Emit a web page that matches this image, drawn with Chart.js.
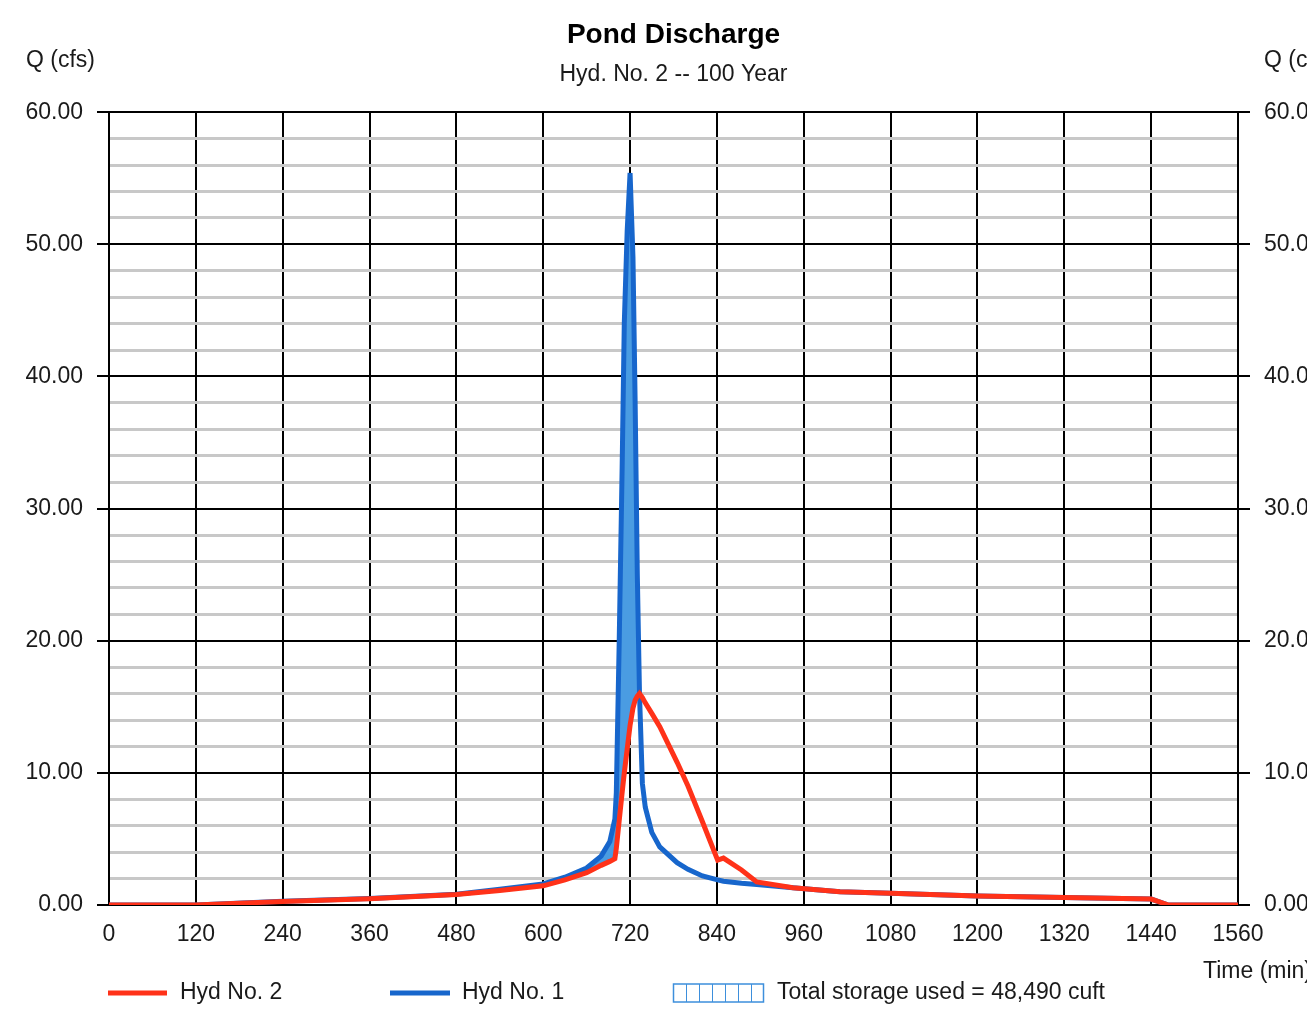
<!DOCTYPE html>
<html>
<head>
<meta charset="utf-8">
<title>Pond Discharge</title>
<script src="https://cdn.jsdelivr.net/npm/chart.js@4.4.1/dist/chart.umd.min.js"></script>
<style>
    html, body { margin: 0; padding: 0; background: #fff; overflow: hidden; }
    #wrap { position: relative; width: 1347px; height: 1015px; }
</style>
</head>
<body>
<div id="wrap"><canvas id="pondChart" width="1347" height="1015"></canvas></div>
<script>
// Time (min), shared by both hydrographs
const timeMin = [0, 120, 240, 360, 480, 540, 600, 630, 660, 680, 692, 699, 701, 705, 709, 712, 716, 720,
    724, 727, 730, 733, 737, 741, 750, 761, 785, 800, 820, 841, 849, 874, 895, 945, 1010, 1080,
    1200, 1320, 1440, 1464, 1560];

// Hyd No. 2 - pond outflow (cfs)
const hydNo2 = [0, 0, 0.27, 0.48, 0.8, 1.1, 1.45, 1.9, 2.45, 3.0, 3.3, 3.5, 4.3, 6.4, 8.5, 10.0, 11.8, 13.6,
    14.9, 15.5, 15.8, 16.0, 15.7, 15.3, 14.5, 13.5, 10.8, 9.0, 6.3, 3.4, 3.55, 2.65, 1.75, 1.3, 1.0, 0.88,
    0.68, 0.56, 0.45, 0, 0];

// Hyd No. 1 - inflow (cfs)
const hydNo1 = [0, 0, 0.28, 0.5, 0.82, 1.2, 1.6, 2.1, 2.8, 3.7, 4.8, 6.5, 8.5, 20, 33, 44, 51, 55.4,
    49, 38, 25, 16, 9.2, 7.4, 5.5, 4.4, 3.2, 2.7, 2.2, 1.9, 1.8, 1.65, 1.55, 1.3, 1.0, 0.88,
    0.68, 0.56, 0.45, 0, 0];

const xTickValues = [0, 120, 240, 360, 480, 600, 720, 840, 960, 1080, 1200, 1320, 1440, 1560];
const yMajorStep = 10;
const yMinorStep = 2;

const legendLabels = ['Hyd No. 2', 'Hyd No. 1', 'Total storage used = 48,490 cuft'];

const RED = '#ff3219';
const BLUE = '#1766cc';
const FILL_BLUE = '#4a9ce2';
const FONT = "'Liberation Sans', Arial, sans-serif";
const TEXT = '#1a1a1a';

// axis captions + custom legend, drawn relative to the chart area
const decorPlugin = {
    id: 'decor',
    afterDraw(chart) {
        const { ctx, chartArea: a } = chart;
        ctx.save();
        ctx.fillStyle = TEXT;
        ctx.font = `23px ${FONT}`;
        ctx.textBaseline = 'middle';
        ctx.textAlign = 'left';
        ctx.fillText('Q (cfs)', a.left - 83, a.top - 52);
        ctx.fillText('Q (cfs)', a.right + 26, a.top - 52);
        ctx.fillText('Time (min)', a.right - 35, a.bottom + 67);

        const ly = a.bottom + 88;
        // Hyd No. 2
        ctx.lineWidth = 5;
        ctx.strokeStyle = RED;
        ctx.beginPath();
        ctx.moveTo(a.left - 1, ly);
        ctx.lineTo(a.left + 58, ly);
        ctx.stroke();
        ctx.fillText(legendLabels[0], a.left + 71, ly);
        // Hyd No. 1
        ctx.strokeStyle = BLUE;
        ctx.beginPath();
        ctx.moveTo(a.left + 281, ly);
        ctx.lineTo(a.left + 341, ly);
        ctx.stroke();
        ctx.fillText(legendLabels[1], a.left + 353, ly);
        // storage hatch box
        const bx = a.left + 564.5, bw = 90, bh = 18;
        ctx.lineWidth = 1.5;
        ctx.strokeStyle = '#3d8fdc';
        ctx.strokeRect(bx, ly - bh / 2, bw, bh);
        ctx.lineWidth = 1;
        for (let i = 1; i < 7; i++) {
            const x = Math.round(bx + i * bw / 7) + 0.5;
            ctx.beginPath();
            ctx.moveTo(x, ly - bh / 2);
            ctx.lineTo(x, ly + bh / 2);
            ctx.stroke();
        }
        ctx.fillText(legendLabels[2], a.left + 668, ly);
        ctx.restore();
    }
};

const isMajor = v => Math.abs(v % yMajorStep) < 1e-6;

function yAxis(position, onChart) {
    return {
        type: 'linear',
        position: position,
        min: 0,
        max: 60,
        afterFit: scale => { scale.width = 109; },
        ticks: {
            stepSize: yMinorStep,
            autoSkip: false,
            padding: 14,
            color: TEXT,
            font: { family: FONT, size: 23 },
            callback: v => isMajor(v) ? v.toFixed(2) : ''
        },
        grid: {
            drawOnChartArea: onChart,
            color: c => isMajor(c.tick.value) ? '#000' : '#c8c8c8',
            lineWidth: c => isMajor(c.tick.value) ? 2 : 3,
            tickColor: c => isMajor(c.tick.value) ? '#000' : 'rgba(0,0,0,0)',
            tickWidth: 2,
            tickLength: 12
        },
        border: { display: true, color: '#000', width: 2 }
    };
}

const ctx = document.getElementById('pondChart').getContext('2d');
const pondChart = new Chart(ctx, {
    type: 'line',
    data: {
        labels: timeMin,
        datasets: [{
            label: 'Hyd No. 2',
            data: timeMin.map((t, i) => ({ x: t, y: hydNo2[i] })),
            borderColor: RED,
            borderWidth: 5,
            pointRadius: 0,
            tension: 0,
            fill: false
        }, {
            label: 'Hyd No. 1',
            data: timeMin.map((t, i) => ({ x: t, y: hydNo1[i] })),
            borderColor: BLUE,
            borderWidth: 5,
            pointRadius: 0,
            tension: 0,
            fill: { target: 0, above: FILL_BLUE, below: 'rgba(0,0,0,0)' }
        }]
    },
    options: {
        responsive: false,
        animation: false,
        layout: { padding: 0 },
        plugins: {
            legend: { display: false },
            tooltip: { enabled: false },
            title: {
                display: true,
                text: 'Pond Discharge',
                color: '#000',
                font: { family: FONT, size: 28, weight: 'bold' },
                padding: { top: 18, bottom: 0 }
            },
            subtitle: {
                display: true,
                text: 'Hyd. No. 2 -- 100 Year',
                color: TEXT,
                font: { family: FONT, size: 23 },
                padding: { top: 9, bottom: 24 }
            }
        },
        scales: {
            x: {
                type: 'linear',
                min: 0,
                max: 1560,
                afterFit: scale => { scale.height = 110; },
                afterBuildTicks: scale => { scale.ticks = xTickValues.map(v => ({ value: v })); },
                ticks: {
                    autoSkip: false,
                    maxRotation: 0,
                    padding: 16,
                    color: TEXT,
                    font: { family: FONT, size: 23 },
                    callback: v => String(v)
                },
                grid: { color: '#000', lineWidth: 2, drawTicks: false },
                border: { display: true, color: '#000', width: 2 }
            },
            y: yAxis('left', true),
            y2: yAxis('right', false)
        }
    },
    plugins: [decorPlugin]
});
</script>
</body>
</html>
